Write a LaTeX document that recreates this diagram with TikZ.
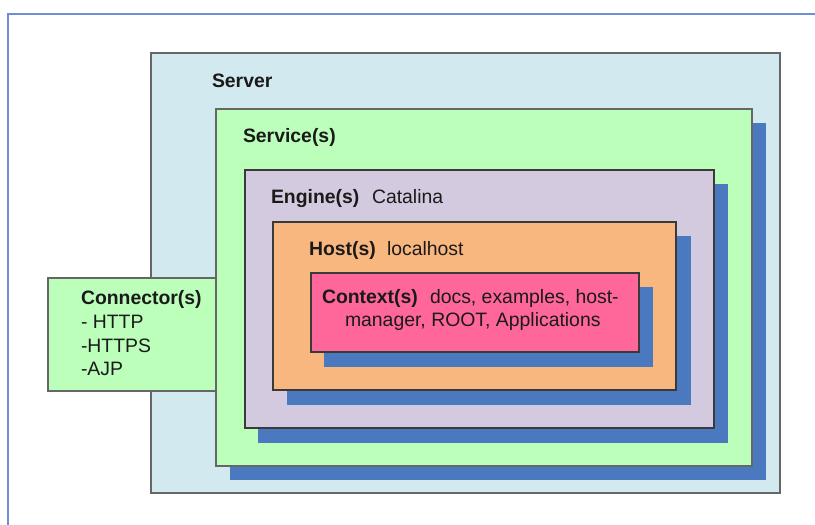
\documentclass[tikz,border=0pt]{standalone}
\usepackage{fontspec}
\setmainfont{Liberation Sans}
\usetikzlibrary{fit}
\definecolor{framec}{HTML}{6E8EDC}
\definecolor{serverc}{HTML}{D2E9EF}
\definecolor{servicec}{HTML}{BBFFBB}
\definecolor{enginec}{HTML}{D3CADF}
\definecolor{hostc}{HTML}{F8B77E}
\definecolor{contextc}{HTML}{FF6699}
\definecolor{shadowc}{HTML}{4A79C0}
\definecolor{borderc}{HTML}{3A3A3A}
\definecolor{borderg}{HTML}{666666}
\definecolor{textc}{HTML}{1A1A1A}
\tikzset{
  box/.style={draw=borderc, line width=1.4pt, inner sep=0pt, outer sep=0pt},
  graybox/.style={draw=borderg, line width=1.8pt, inner sep=0pt, outer sep=0pt},
  shadowbox/.style={fill=shadowc, draw=none, inner sep=0pt, outer sep=0pt},
  lbl/.style={anchor=base west, inner sep=0pt, outer sep=0pt, text=textc,
    font=\fontsize{19.4}{23}\selectfont},
  lblb/.style={lbl, font=\fontsize{19.4}{23}\selectfont\bfseries},
}
\begin{document}
\begin{tikzpicture}[x=1pt,y=-1pt]
\useasboundingbox (0,0) rectangle (815,525);
% frame
\coordinate (ftr) at (815,14);
\coordinate (ftl) at (8,14);
\coordinate (fbl) at (8,525);
\draw[framec, line width=2pt] (ftr) -- (ftl) -- (fbl);
% server
\node[graybox, fill=serverc, fit={(151,53) (780,493)}] (server) {};
% service
\node[shadowbox, fit={(230,123) (766,480)}] (serviceS) {};
\node[graybox, fill=servicec, fit={(216,109) (752,466)}] (service) {};
% engine
\node[shadowbox, fit={(258,184) (728,443)}] (engineS) {};
\node[box, fill=enginec, fit={(245,170) (714,428)}] (engine) {};
% host
\node[shadowbox, fit={(287,236) (691,405)}] (hostS) {};
\node[box, fill=hostc, fit={(273,222) (676,390)}] (host) {};
% context
\node[shadowbox, fit={(324,287) (653,367)}] (contextS) {};
\node[box, fill=contextc, fit={(311,273) (639,352)}] (context) {};
% connector
\node[graybox, fill=servicec, fit={(48,278) (216,391)}] (connector) {};
% labels
\node[lblb] (tserver) at (212,87) {Server};
\node[lblb] (tservice) at (243,142) {Service(s)};
\node[lblb] (tengine) at (271,203) {Engine(s)};
\node[lbl] (tcatalina) at (372,203) {Catalina};
\node[lblb] (thost) at (309,255) {Host(s)};
\node[lbl] (tlocal) at (387,255) {localhost};
\node[lblb] (tcontext) at (322,303) {Context(s)};
\node[lbl] (tctx1) at (430,303) {docs, examples, host-};
\node[lbl] (tctx2) at (345,326) {manager, ROOT, Applications};
\node[lblb] (tconn) at (81,304) {Connector(s)};
\node[lbl] (thttp) at (81,328) {- HTTP};
\node[lbl] (thttps) at (81,352) {-HTTPS};
\node[lbl] (tajp) at (81,375) {-AJP};
\end{tikzpicture}
\end{document}
